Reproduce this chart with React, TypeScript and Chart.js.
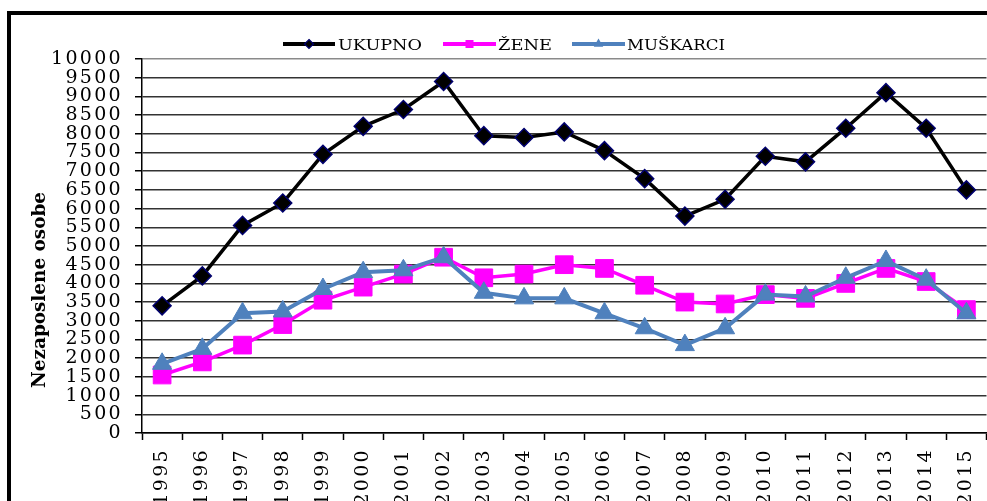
import React, { useEffect, useRef } from "react";
import { Chart, registerables } from "chart.js";

Chart.register(...registerables);

const years = ["1995", "1996", "1997", "1998", "1999", "2000", "2001", "2002", "2003", "2004", "2005", "2006", "2007", "2008", "2009", "2010", "2011", "2012", "2013", "2014", "2015"];
const ukupno = [3400, 4200, 5550, 6150, 7450, 8200, 8650, 9400, 7950, 7900, 8050, 7550, 6800, 5800, 6250, 7400, 7250, 8150, 9100, 8150, 6500];
const zene = [1550, 1900, 2350, 2900, 3550, 3900, 4250, 4700, 4150, 4250, 4500, 4400, 3950, 3500, 3450, 3700, 3600, 4000, 4400, 4050, 3300];
const muskarci = [1850, 2250, 3200, 3250, 3850, 4300, 4350, 4700, 3750, 3600, 3600, 3200, 2800, 2350, 2800, 3700, 3650, 4150, 4600, 4100, 3200];
const seriesLabels = ["UKUPNO", "ŽENE", "MUŠKARCI"];
const yAxisTitle = "Nezaposlene osobe";
const yMin = 0;
const yMax = 10000;
const yStep = 500;

const SERIF = '"DejaVu Serif", serif';
const BLACK = "#000000";
const MAGENTA = "#ff00ff";
const BLUE = "#4f81bd";
const NAVY = "#00006e";

const legendLayout = [
  { x1: 283, x2: 335, tx: 338, tw: 84, color: BLACK, marker: "diamond" },
  { x1: 443, x2: 496, tx: 498, tw: 54, color: MAGENTA, marker: "square" },
  { x1: 572, x2: 625, tx: 627, tw: 98, color: BLUE, marker: "triangle" },
];

const decorPlugin = {
  id: "decor",
  beforeDraw(chart: any) {
    const ctx = chart.ctx as CanvasRenderingContext2D;
    (ctx as any).letterSpacing = "2.3px";
  },
  afterDraw(chart: any) {
    const ctx = chart.ctx as CanvasRenderingContext2D;
    ctx.save();
    (ctx as any).letterSpacing = "0px";

    // y-axis title
    ctx.save();
    ctx.font = `bold 19px ${SERIF}`;
    ctx.fillStyle = "#000";
    const tw = ctx.measureText(yAxisTitle).width;
    ctx.translate(45, 290);
    ctx.rotate(-Math.PI / 2);
    ctx.scale(196 / tw, 1);
    ctx.textAlign = "center";
    ctx.textBaseline = "alphabetic";
    ctx.fillText(yAxisTitle, 0, 0);
    ctx.restore();

    // legend
    const ly = 44;
    legendLayout.forEach((item, i) => {
      const label = chart.data.datasets[i].label as string;
      ctx.save();
      ctx.strokeStyle = item.color;
      ctx.lineWidth = 4;
      ctx.beginPath();
      ctx.moveTo(item.x1, ly);
      ctx.lineTo(item.x2, ly);
      ctx.stroke();
      const cx = (item.x1 + item.x2) / 2;
      ctx.beginPath();
      if (item.marker === "diamond") {
        const r = 4.5;
        ctx.moveTo(cx, ly - r);
        ctx.lineTo(cx + r, ly);
        ctx.lineTo(cx, ly + r);
        ctx.lineTo(cx - r, ly);
        ctx.closePath();
        ctx.fillStyle = BLACK;
        ctx.fill();
        ctx.strokeStyle = NAVY;
        ctx.lineWidth = 1.2;
        ctx.stroke();
      } else if (item.marker === "square") {
        ctx.fillStyle = MAGENTA;
        ctx.fillRect(cx - 4, ly - 4, 8, 8);
      } else {
        const r = 5.5;
        ctx.moveTo(cx, ly - r);
        ctx.lineTo(cx + r * 0.866, ly + r * 0.5);
        ctx.lineTo(cx - r * 0.866, ly + r * 0.5);
        ctx.closePath();
        ctx.fillStyle = BLUE;
        ctx.fill();
      }
      ctx.font = `15px ${SERIF}`;
      ctx.fillStyle = "#000";
      const w = ctx.measureText(label).width;
      ctx.translate(item.tx, 50);
      ctx.scale(item.tw / w, 1);
      ctx.textAlign = "left";
      ctx.textBaseline = "alphabetic";
      ctx.fillText(label, 0, 0);
      ctx.restore();
    });
    ctx.restore();
  },
};

export default function App() {
  const ref = useRef<HTMLCanvasElement>(null);

  useEffect(() => {
    const canvas = ref.current;
    if (!canvas) return;
    const chart = new Chart(canvas, {
      type: "line",
      data: {
        labels: years,
        datasets: [
          {
            label: seriesLabels[0],
            data: ukupno,
            borderColor: BLACK,
            borderWidth: 3.5,
            pointStyle: "rectRot",
            pointRadius: 9,
            pointBackgroundColor: BLACK,
            pointBorderColor: NAVY,
            pointBorderWidth: 1.5,
            tension: 0,
            order: 2,
          },
          {
            label: seriesLabels[1],
            data: zene,
            borderColor: MAGENTA,
            borderWidth: 3.5,
            pointStyle: "rect",
            pointRadius: 12.5,
            pointBackgroundColor: MAGENTA,
            pointBorderColor: MAGENTA,
            pointBorderWidth: 1,
            tension: 0,
            order: 1,
          },
          {
            label: seriesLabels[2],
            data: muskarci,
            borderColor: BLUE,
            borderWidth: 4,
            pointStyle: "triangle",
            pointRadius: 11,
            pointBackgroundColor: BLUE,
            pointBorderColor: BLUE,
            pointBorderWidth: 1,
            tension: 0,
            order: 0,
          },
        ],
      },
      options: {
        responsive: false,
        animation: false,
        devicePixelRatio: 1,
        layout: { padding: { top: 59, right: 8, left: 0, bottom: 0 } },
        plugins: {
          legend: { display: false },
          tooltip: { enabled: false },
          title: { display: false },
        },
        scales: {
          x: {
            type: "category",
            offset: true,
            grid: {
              offset: true,
              drawOnChartArea: false,
              drawTicks: true,
              tickLength: 7,
              tickColor: "#000",
              tickWidth: 1.5,
            },
            border: { color: "#000", width: 1.5 },
            ticks: {
              minRotation: 90,
              maxRotation: 90,
              autoSkip: false,
              padding: 8,
              color: "#000",
              font: { family: SERIF, size: 19, lineHeight: 1 },
            },
            afterFit: (s: any) => {
              s.height = 127;
            },
          },
          y: {
            min: yMin,
            max: yMax,
            ticks: {
              stepSize: yStep,
              autoSkip: false,
              padding: 12,
              color: "#000",
              font: { family: SERIF, size: 19, lineHeight: 1 },
              callback: (v: any) => String(v),
            },
            grid: {
              color: (c: any) => (c.tick && c.tick.value === yMax ? "#8a8a8a" : "#333333"),
              lineWidth: 1.5,
              tickLength: 7,
              tickColor: "#000",
            },
            border: { color: "#000", width: 1.5 },
            afterFit: (s: any) => {
              s.width = 142;
            },
          },
        },
      },
      plugins: [decorPlugin],
    } as any);
    return () => chart.destroy();
  }, []);

  return (
    <div
      style={{
        position: "fixed",
        left: 0,
        top: 0,
        width: 987,
        height: 501,
        overflow: "hidden",
        background: "#fff",
      }}
    >
      <canvas ref={ref} width={1000} height={560} style={{ display: "block", width: 1000, height: 560, background: "#fff" }} />
      <div
        style={{
          position: "absolute",
          left: 7,
          top: 11,
          width: 1000,
          height: 600,
          borderTop: "4px solid #000",
          borderLeft: "4px solid #000",
          pointerEvents: "none",
        }}
      />
    </div>
  );
}
